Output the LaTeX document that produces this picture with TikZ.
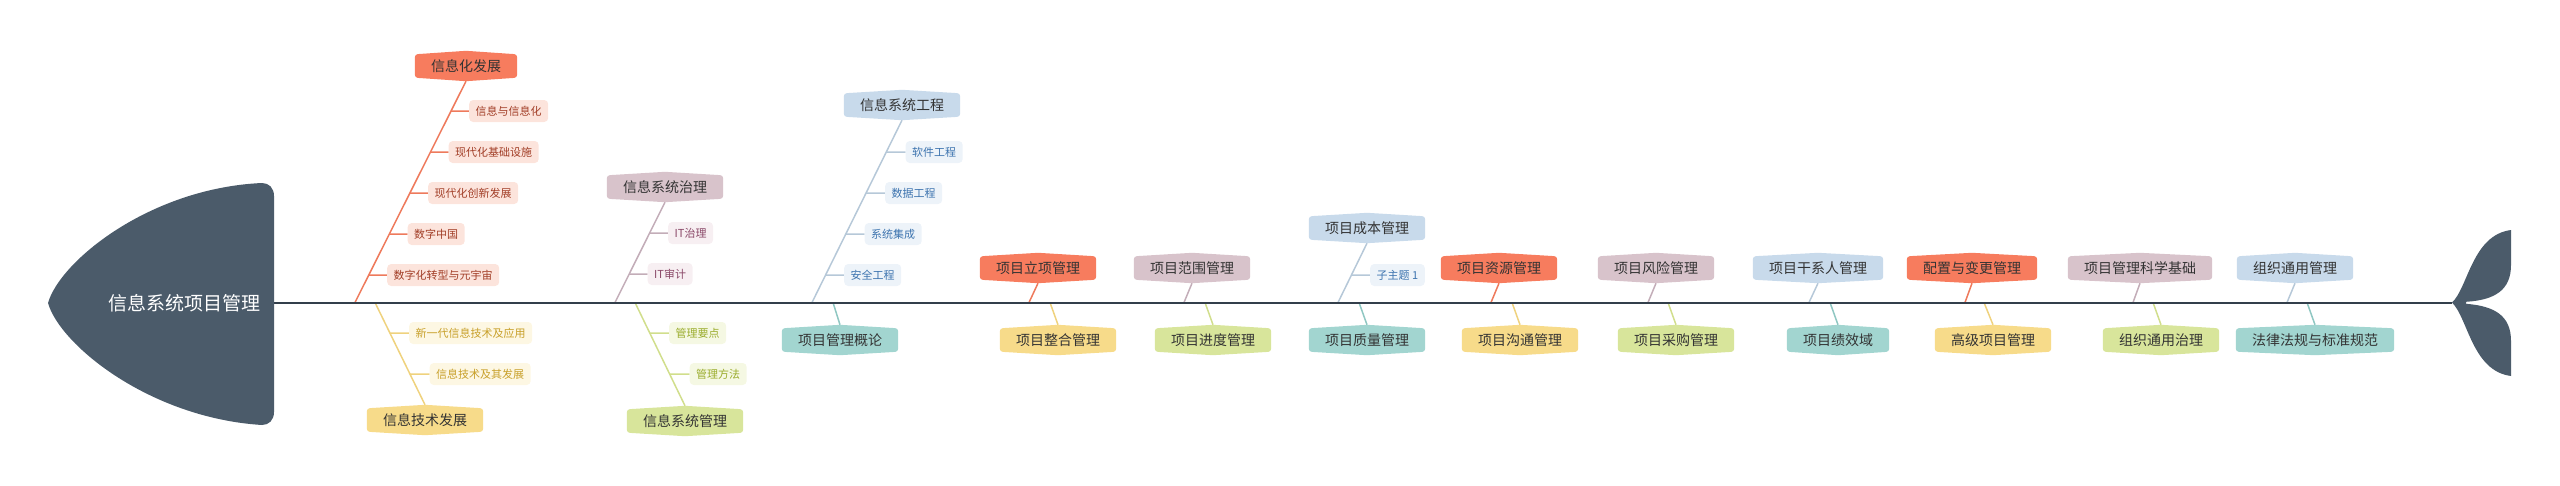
\documentclass[tikz,border=0pt]{standalone}
\usepackage{fontspec}
\setmainfont{Noto Sans CJK SC}
\usetikzlibrary{backgrounds,calc}
\definecolor{corMain}{HTML}{F77C5E}\definecolor{corLine}{HTML}{EE7A5C}\definecolor{corSub}{HTML}{FCE4DC}\definecolor{corTxt}{HTML}{A23E27}
\definecolor{yelMain}{HTML}{F7DB8A}\definecolor{yelLine}{HTML}{EFD27E}\definecolor{yelSub}{HTML}{FDF7E3}\definecolor{yelTxt}{HTML}{C8A02A}
\definecolor{mauMain}{HTML}{D8C3CB}\definecolor{mauLine}{HTML}{C3ADB8}\definecolor{mauSub}{HTML}{F7EFF2}\definecolor{mauTxt}{HTML}{8A4868}
\definecolor{greMain}{HTML}{D8E59B}\definecolor{greLine}{HTML}{D1DE8C}\definecolor{greSub}{HTML}{F5F8E3}\definecolor{greTxt}{HTML}{9AAC2C}
\definecolor{bluMain}{HTML}{C8DAEB}\definecolor{bluLine}{HTML}{B6C8D8}\definecolor{bluSub}{HTML}{EDF3F9}\definecolor{bluTxt}{HTML}{3D74AF}
\definecolor{teaMain}{HTML}{A2D5D0}\definecolor{teaLine}{HTML}{8FC7C2}
\definecolor{headCol}{HTML}{4B5B6A}\definecolor{spineCol}{HTML}{333F4B}\definecolor{txtCol}{HTML}{333333}
\newcommand\hexfill[2]{\fill[#2, rounded corners=3pt] (#1.north west) -- ([yshift=3.5pt]#1.north) -- (#1.north east) -- (#1.south east) -- ([yshift=-3.5pt]#1.south) -- (#1.south west) -- cycle;}
\tikzset{
  topic/.style={font=\fontsize{14pt}{16pt}\selectfont, text=txtCol, inner xsep=16pt, inner ysep=0pt, minimum height=23pt},
  sub/.style={font=\fontsize{11pt}{13pt}\selectfont, fill=#1Sub, text=#1Txt, inner xsep=6.5pt, inner ysep=0pt, minimum height=22pt, rounded corners=4pt, anchor=west},
  ln/.style={draw=#1, line width=1.5pt},
  headtext/.style={font=\fontsize{19pt}{22pt}\selectfont, text=white, inner sep=0pt},
  spine/.style={draw=spineCol, line width=2pt}
}
\begin{document}
\begin{tikzpicture}[x=1pt,y=-1pt]
\useasboundingbox (0,0) rectangle (2560,485);
% head text
\node[headtext] (head) at (184,303) {信息系统项目管理};
\coordinate (spinestart) at (274,302.5);
\coordinate (spineend) at (2452,302.5);
% top main topics
\node[topic] (t1) at (466,66) {信息化发展};
\node[topic] (t2) at (665,187) {信息系统治理};
\node[topic] (t3) at (902,105) {信息系统工程};
\node[topic] (t4) at (1038,268) {项目立项管理};
\node[topic] (t5) at (1192,268) {项目范围管理};
\node[topic] (t6) at (1367,228) {项目成本管理};
\node[topic] (t7) at (1499,268) {项目资源管理};
\node[topic] (t8) at (1656,268) {项目风险管理};
\node[topic] (t9) at (1818,268) {项目干系人管理};
\node[topic] (t10) at (1972,268) {配置与变更管理};
\node[topic] (t11) at (2140,268) {项目管理科学基础};
\node[topic] (t12) at (2295,268) {组织通用管理};
% bottom main topics
\node[topic] (b1) at (425,420) {信息技术发展};
\node[topic] (b2) at (685,421) {信息系统管理};
\node[topic] (b3) at (840,340) {项目管理概论};
\node[topic] (b4) at (1058,340) {项目整合管理};
\node[topic] (b5) at (1213,340) {项目进度管理};
\node[topic] (b6) at (1367,340) {项目质量管理};
\node[topic] (b7) at (1520,340) {项目沟通管理};
\node[topic] (b8) at (1676,340) {项目采购管理};
\node[topic] (b9) at (1838,340) {项目绩效域};
\node[topic] (b10) at (1993,340) {高级项目管理};
\node[topic] (b11) at (2161,340) {组织通用治理};
\node[topic] (b12) at (2315,340) {法律法规与标准规范};
% attach points on spine
\foreach \n/\x in {t1/355,t2/615,t3/812,t4/1029,t5/1184,t6/1338,t7/1491,t8/1648,t9/1809,t10/1965,t11/2133,t12/2287,
                   b1/375,b2/635,b3/833,b4/1050,b5/1205,b6/1359,b7/1512,b8/1668,b9/1830,b10/1984,b11/2153,b12/2307}
  {\coordinate (a\n) at (\x,302.5);}
\foreach \n in {t1,t2,t3,t4,t5,t6,t7,t8,t9,t10,t11,t12} {\coordinate (\n tip) at ([yshift=-3.5pt]\n.south);}
\foreach \n in {b1,b2,b3,b4,b5,b6,b7,b8,b9,b10,b11,b12} {\coordinate (\n tip) at ([yshift=3.5pt]\n.north);}
% sub topics
\node[sub=cor] (c1a) at (469,111) {信息与信息化};
\node[sub=cor] (c1b) at (448.5,152) {现代化基础设施};
\node[sub=cor] (c1c) at (428,193) {现代化创新发展};
\node[sub=cor] (c1d) at (407.5,234) {数字中国};
\node[sub=cor] (c1e) at (387,275) {数字化转型与元宇宙};
\node[sub=yel] (d1a) at (409,333) {新一代信息技术及应用};
\node[sub=yel] (d1b) at (429.5,374) {信息技术及其发展};
\node[sub=mau] (c2a) at (668,233) {IT治理};
\node[sub=mau] (c2b) at (647.5,274) {IT审计};
\node[sub=gre] (d2a) at (669,333) {管理要点};
\node[sub=gre] (d2b) at (689.5,374) {管理方法};
\node[sub=blu] (c3a) at (905.5,152) {软件工程};
\node[sub=blu] (c3b) at (885,193) {数据工程};
\node[sub=blu] (c3c) at (864.5,234) {系统集成};
\node[sub=blu] (c3d) at (844,275) {安全工程};
\node[sub=blu] (c6a) at (1370,275) {子主题 1};
\begin{pgfonlayer}{background}
% branch lines
\foreach \n/\c in {t1/corLine,t2/mauLine,t3/bluLine,t4/corLine,t5/mauLine,t6/bluLine,t7/corLine,t8/mauLine,t9/bluLine,t10/corLine,t11/mauLine,t12/bluLine,
                   b1/yelLine,b2/greLine,b3/teaLine,b4/yelLine,b5/greLine,b6/teaLine,b7/yelLine,b8/greLine,b9/teaLine,b10/yelLine,b11/greLine,b12/teaLine}
  {\draw[ln=\c] (a\n) -- (\n tip);}
% stubs
\foreach \s in {c1a,c1b,c1c,c1d,c1e} {\draw[ln=corLine] (intersection of at1--t1tip and \s.west--\s.east) -- (\s.west);}
\foreach \s in {d1a,d1b} {\draw[ln=yelLine] (intersection of ab1--b1tip and \s.west--\s.east) -- (\s.west);}
\foreach \s in {c2a,c2b} {\draw[ln=mauLine] (intersection of at2--t2tip and \s.west--\s.east) -- (\s.west);}
\foreach \s in {d2a,d2b} {\draw[ln=greLine] (intersection of ab2--b2tip and \s.west--\s.east) -- (\s.west);}
\foreach \s in {c3a,c3b,c3c,c3d} {\draw[ln=bluLine] (intersection of at3--t3tip and \s.west--\s.east) -- (\s.west);}
\draw[ln=bluLine] (intersection of at6--t6tip and c6a.west--c6a.east) -- (c6a.west);
% topic fills
\foreach \n/\c in {t1/corMain,t2/mauMain,t3/bluMain,t4/corMain,t5/mauMain,t6/bluMain,t7/corMain,t8/mauMain,t9/bluMain,t10/corMain,t11/mauMain,t12/bluMain,
                   b1/yelMain,b2/greMain,b3/teaMain,b4/yelMain,b5/greMain,b6/teaMain,b7/yelMain,b8/greMain,b9/teaMain,b10/yelMain,b11/greMain,b12/teaMain}
  {\hexfill{\n}{\c}}
% spine
\draw[spine] (spinestart) -- (spineend);
% head
\fill[headCol] (48,303) .. controls (60,261) and (150,188) .. (262,183)
  .. controls (269,183) and (274,188) .. (274,196) -- (274,412)
  .. controls (274,420) and (269,425) .. (262,425)
  .. controls (150,418) and (60,345) .. (48,303) -- cycle;
% tail
\fill[headCol] (spineend) .. controls (2468,288) and (2472,235) .. (2511,230) -- (2511,265)
  .. controls (2511,290) and (2495,300) .. (2466,301.8) -- (2466,303.8)
  .. controls (2495,306) and (2511,316) .. (2511,341) -- (2511,376)
  .. controls (2472,371) and (2468,318) .. (spineend) -- cycle;
\end{pgfonlayer}
\end{tikzpicture}
\end{document}
